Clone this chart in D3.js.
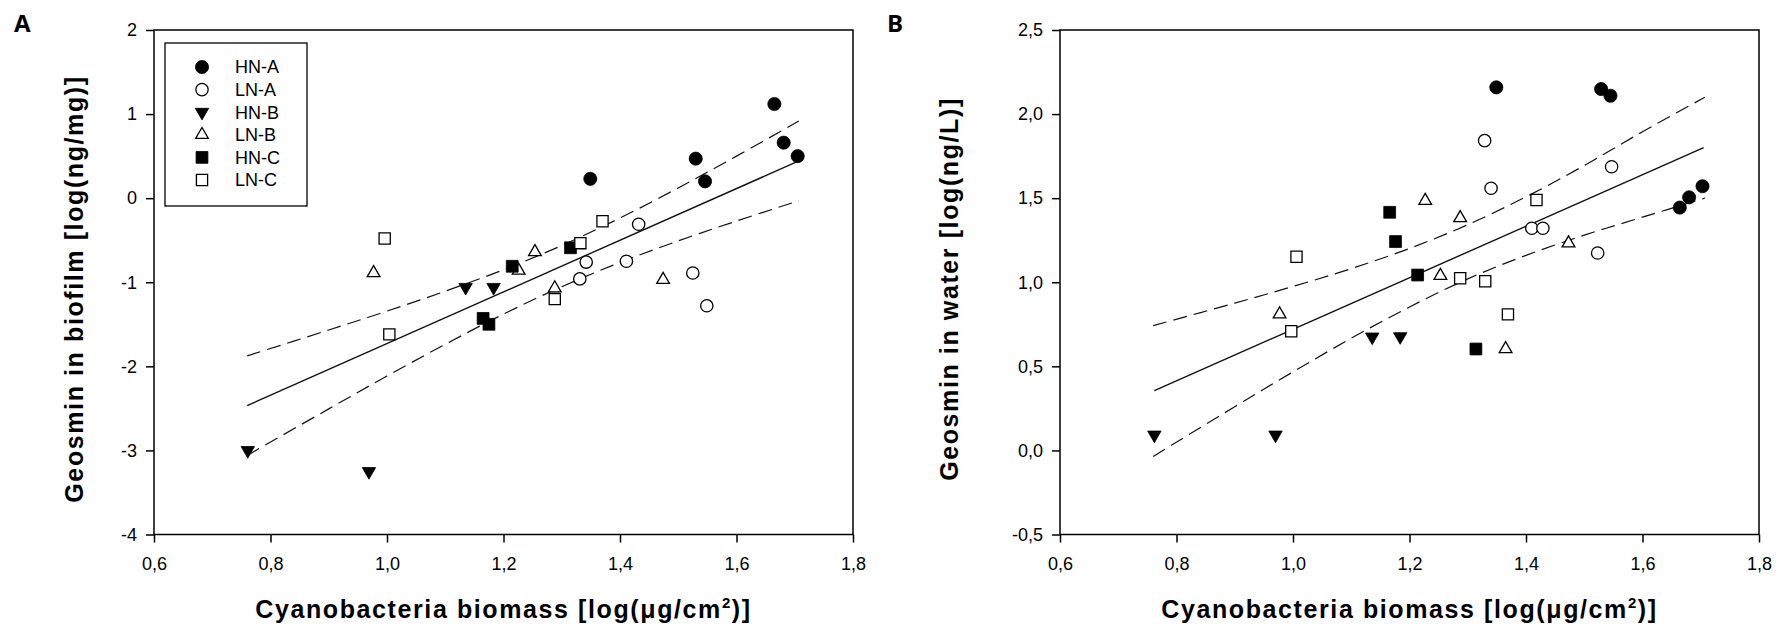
<!DOCTYPE html>
<meta charset="utf-8">
<style>
body { margin: 0; background: #fff; }
svg text { font-family: "Liberation Sans", Arial, sans-serif; fill: #000; }
.axis text { font-size: 18px; }
.axis line { stroke: #000; stroke-width: 1.5px; }
.axis .domain { display: none; }
.frame { fill: none; stroke: #000; stroke-width: 1.5px; }
.title { font-size: 25px; font-weight: bold; letter-spacing: 1.6px; }
.panel { font-family: "Open Sans", sans-serif !important; font-size: 24px; font-weight: bold; }
.fit { fill: none; stroke: #111; stroke-width: 1.4px; }
.band { fill: none; stroke: #111; stroke-width: 1.2px; stroke-dasharray: 14,7; }
.legend-box { fill: #fff; stroke: #000; stroke-width: 1.3px; }
.legend text { font-size: 18px; }
</style>
<svg width="1782" height="628"></svg>
<script src="https://cdn.jsdelivr.net/npm/d3@7"></script>
<script>
// groups and ticks
var groups = ["HN-A", "LN-A", "HN-B", "LN-B", "HN-C", "LN-C"];
var xTicks = [0.6, 0.8, 1.0, 1.2, 1.4, 1.6, 1.8];
var xTickLabels = ["0,6", "0,8", "1,0", "1,2", "1,4", "1,6", "1,8"];
var biofilmTicks = [-4, -3, -2, -1, 0, 1, 2];
var biofilmTickLabels = ["-4", "-3", "-2", "-1", "0", "1", "2"];
var waterTicks = [-0.5, 0, 0.5, 1, 1.5, 2, 2.5];
var waterTickLabels = ["-0,5", "0,0", "0,5", "1,0", "1,5", "2,0", "2,5"];

// panel A: geosmin in biofilm  [biomass, geosmin]
var biofilmHNA = [[1.349, 0.23], [1.530, 0.47], [1.546, 0.20], [1.665, 1.12], [1.681, 0.66], [1.705, 0.50]];
var biofilmLNA = [[1.331, -0.96], [1.342, -0.76], [1.411, -0.75], [1.432, -0.31], [1.525, -0.89], [1.549, -1.28]];
var biofilmHNB = [[0.761, -3.0], [0.969, -3.25], [1.135, -1.06], [1.183, -1.06]];
var biofilmLNB = [[0.977, -0.89], [1.226, -0.86], [1.254, -0.64], [1.288, -1.07], [1.474, -0.97]];
var biofilmHNC = [[1.165, -1.43], [1.175, -1.50], [1.215, -0.81], [1.315, -0.59]];
var biofilmLNC = [[0.996, -0.48], [1.004, -1.62], [1.288, -1.20], [1.332, -0.535], [1.370, -0.275]];

var biofilmFit = [[0.76, -2.467], [1.707, 0.443]];
var biofilmUpper = [[0.76, -1.875], [0.9, -1.568], [1.0, -1.343], [1.1, -1.106], [1.2, -0.851], [1.3, -0.563], [1.4, -0.236], [1.5, 0.122], [1.6, 0.50], [1.707, 0.917]];
var biofilmLower = [[0.76, -3.059], [0.9, -2.506], [1.0, -2.115], [1.1, -1.738], [1.2, -1.379], [1.3, -1.053], [1.4, -0.765], [1.5, -0.508], [1.6, -0.272], [1.707, -0.031]];

// panel B: geosmin in water
var waterHNA = [[1.349, 2.159], [1.529, 2.149], [1.545, 2.109], [1.664, 1.444], [1.680, 1.505], [1.703, 1.571]];
var waterLNA = [[1.329, 1.842], [1.340, 1.559], [1.410, 1.321], [1.429, 1.321], [1.523, 1.174], [1.547, 1.687]];
var waterHNB = [[0.762, 0.092], [0.970, 0.092], [1.136, 0.675], [1.184, 0.677]];
var waterLNB = [[0.977, 0.81], [1.227, 1.485], [1.253, 1.039], [1.287, 1.382], [1.365, 0.603], [1.473, 1.232]];
var waterHNC = [[1.166, 1.416], [1.176, 1.242], [1.214, 1.043], [1.314, 0.603]];
var waterLNC = [[0.997, 0.709], [1.006, 1.152], [1.287, 1.024], [1.330, 1.006], [1.369, 0.809], [1.418, 1.489]];

var waterFit = [[0.762, 0.356], [1.705, 1.80]];
var waterUpper = [[0.76, 0.742], [0.9, 0.876], [1.0, 0.975], [1.1, 1.081], [1.2, 1.201], [1.3, 1.342], [1.4, 1.508], [1.5, 1.694], [1.6, 1.895], [1.707, 2.10]];
var waterLower = [[0.76, -0.036], [0.9, 0.26], [1.0, 0.467], [1.1, 0.667], [1.2, 0.853], [1.3, 1.02], [1.4, 1.16], [1.5, 1.28], [1.6, 1.387], [1.707, 1.50]];

var markers = {
  "HN-A": {type: d3.symbolCircle, size: 135, filled: true, rot: 0},
  "LN-A": {type: d3.symbolCircle, size: 120, filled: false, rot: 0},
  "HN-B": {type: d3.symbolTriangle, size: 78, filled: true, rot: 180},
  "LN-B": {type: d3.symbolTriangle, size: 70, filled: false, rot: 0},
  "HN-C": {type: d3.symbolSquare, size: 140, filled: true, rot: 0},
  "LN-C": {type: d3.symbolSquare, size: 125, filled: false, rot: 0}
};

var svg = d3.select("svg");

function drawMarker(sel, g, px, py) {
  var m = markers[g];
  sel.append("path")
    .attr("d", d3.symbol().type(m.type).size(m.size)())
    .attr("transform", "translate(" + px + "," + py + ") rotate(" + m.rot + ")")
    .attr("fill", m.filled ? "#000" : "#fff")
    .attr("stroke", "#000")
    .attr("stroke-width", m.filled ? 0.8 : 1.3);
}

function drawPanel(opt) {
  var x = d3.scaleLinear().domain([0.6, 1.8]).range([opt.left, opt.right]);
  var y = d3.scaleLinear().domain(opt.yDomain).range([opt.bottom, opt.top]);

  svg.append("g")
    .attr("class", "axis")
    .attr("transform", "translate(0," + opt.bottom + ")")
    .call(d3.axisBottom(x).tickValues(xTicks)
      .tickFormat(function(d, i) { return xTickLabels[i]; })
      .tickSizeOuter(0).tickSize(8).tickPadding(15));

  svg.append("g")
    .attr("class", "axis")
    .attr("transform", "translate(" + opt.left + ",0)")
    .call(d3.axisLeft(y).tickValues(opt.yTicks)
      .tickFormat(function(d, i) { return opt.yLabels[i]; })
      .tickSizeOuter(0).tickSize(8).tickPadding(9));

  var line = d3.line().x(function(d) { return x(d[0]); }).y(function(d) { return y(d[1]); });
  var curve = d3.line().curve(d3.curveCatmullRom)
    .x(function(d) { return x(d[0]); }).y(function(d) { return y(d[1]); });

  svg.append("path").datum(opt.upper).attr("class", "band").attr("d", curve);
  svg.append("path").datum(opt.lower).attr("class", "band").attr("d", curve);
  svg.append("path").datum(opt.fit).attr("class", "fit").attr("d", line);

  var pts = svg.append("g");
  groups.forEach(function(g, i) {
    opt.series[i].forEach(function(d) { drawMarker(pts, g, x(d[0]), y(d[1])); });
  });

  svg.append("rect").attr("class", "frame")
    .attr("x", opt.left).attr("y", opt.top)
    .attr("width", opt.right - opt.left).attr("height", opt.bottom - opt.top);

  svg.append("text").attr("class", "panel")
    .attr("x", opt.letterX).attr("y", 32).text(opt.letter);

  var xt = svg.append("text").attr("class", "title")
    .attr("x", (opt.left + opt.right) / 2).attr("y", 618)
    .attr("text-anchor", "middle");
  xt.append("tspan").text("Cyanobacteria biomass [log(\u03bcg/cm");
  xt.append("tspan").attr("dy", -10).style("font-size", "15px").text("2");
  xt.append("tspan").attr("dy", 10).text(")]");

  svg.append("text").attr("class", "title")
    .attr("text-anchor", "middle")
    .attr("transform", "translate(" + opt.yTitleX + ",289) rotate(-90)")
    .text(opt.yTitle);
}

drawPanel({
  left: 154, right: 853, top: 30, bottom: 534.5,
  yDomain: [-4, 2], yTicks: biofilmTicks, yLabels: biofilmTickLabels,
  series: [biofilmHNA, biofilmLNA, biofilmHNB, biofilmLNB, biofilmHNC, biofilmLNC],
  fit: biofilmFit, upper: biofilmUpper, lower: biofilmLower,
  letter: "A", letterX: 14, yTitleX: 83,
  yTitle: "Geosmin in biofilm [log(ng/mg)]"
});

drawPanel({
  left: 1060, right: 1759, top: 30, bottom: 534.5,
  yDomain: [-0.5, 2.5], yTicks: waterTicks, yLabels: waterTickLabels,
  series: [waterHNA, waterLNA, waterHNB, waterLNB, waterHNC, waterLNC],
  fit: waterFit, upper: waterUpper, lower: waterLower,
  letter: "B", letterX: 887, yTitleX: 958,
  yTitle: "Geosmin in water [log(ng/L)]"
});

// legend (panel A)
var legend = svg.append("g").attr("class", "legend");
legend.append("rect").attr("class", "legend-box")
  .attr("x", 165).attr("y", 43).attr("width", 142).attr("height", 163);
groups.forEach(function(g, i) {
  var ly = 67 + i * 22.6;
  drawMarker(legend, g, 202, ly);
  legend.append("text").attr("x", 235).attr("y", ly).attr("dy", "0.35em").text(g);
});
</script>
